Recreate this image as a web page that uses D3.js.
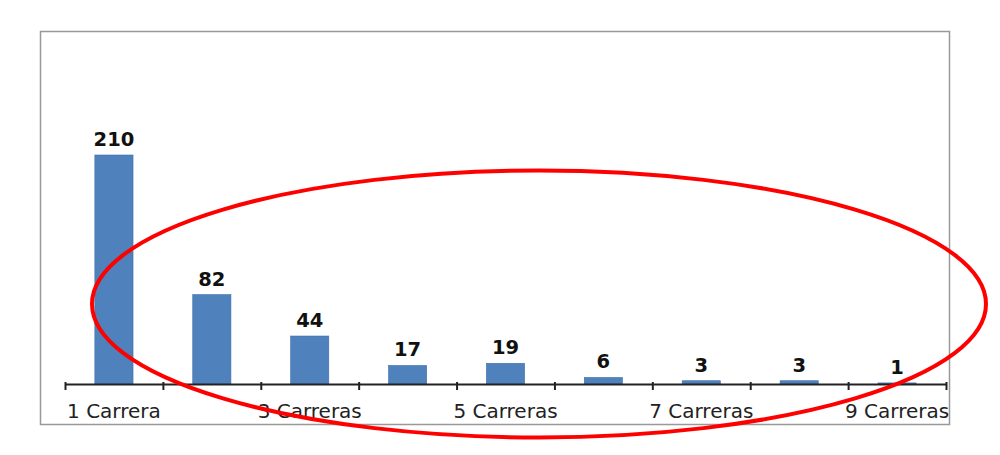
<!DOCTYPE html>
<html>
<head>
<meta charset="utf-8">
<script src="https://cdn.jsdelivr.net/npm/d3@7"></script>
<style>
  html, body { margin: 0; padding: 0; background: #fff; }
  svg { display: block; }
</style>
</head>
<body>
<svg id="chart" width="1000" height="455"></svg>
<script>
const categories = ["1 Carrera", "2 Carreras", "3 Carreras", "4 Carreras", "5 Carreras",
                    "6 Carreras", "7 Carreras", "8 Carreras", "9 Carreras"];
const values = [210, 82, 44, 17, 19, 6, 3, 3, 1];
const shownTickLabels = ["1 Carrera", "3 Carreras", "5 Carreras", "7 Carreras", "9 Carreras"];

const svg = d3.select("#chart");

// outer frame
svg.append("rect")
  .attr("x", 40.5).attr("y", 31.5)
  .attr("width", 909).attr("height", 393)
  .attr("fill", "#fff")
  .attr("stroke", "#999").attr("stroke-width", 1.5);

const x0 = 65, x1 = 946, yBase = 384;

const x = d3.scaleBand()
  .domain(categories)
  .range([x0, x1])
  .paddingInner(0.61)
  .paddingOuter(0.305);

const y = d3.scaleLinear()
  .domain([0, 210])
  .range([yBase, 155]);

// bars
svg.append("g").selectAll("rect")
  .data(values)
  .join("rect")
  .attr("x", (d, i) => x(categories[i]))
  .attr("y", d => y(d))
  .attr("width", x.bandwidth())
  .attr("height", d => yBase - y(d))
  .attr("fill", "#4f81bd")
  .attr("stroke", "#3f6fa8")
  .attr("stroke-width", 0.6);

// value labels
svg.append("g").selectAll("text")
  .data(values)
  .join("text")
  .attr("x", (d, i) => x(categories[i]) + x.bandwidth() / 2)
  .attr("y", d => y(d) - 9)
  .attr("text-anchor", "middle")
  .attr("font-family", "DejaVu Sans, Verdana, sans-serif")
  .attr("font-weight", "bold")
  .attr("font-size", 19.5)
  .attr("fill", "#111")
  .text(d => d);

// axis with ticks at category boundaries
const tickScale = d3.scaleLinear().domain([0, categories.length]).range([x0, x1]);
const axis = d3.axisBottom(tickScale)
  .tickValues(d3.range(categories.length + 1))
  .tickSizeInner(6)
  .tickSizeOuter(0)
  .tickFormat("");
const gAxis = svg.append("g")
  .attr("transform", `translate(0,${yBase})`)
  .call(axis);
gAxis.select(".domain").attr("stroke", "#222").attr("stroke-width", 2);
gAxis.selectAll(".tick line").attr("stroke", "#222").attr("stroke-width", 2).attr("y1", -2);

// category labels (every other one shown)
svg.append("g").selectAll("text")
  .data(shownTickLabels)
  .join("text")
  .attr("x", d => x(d) + x.bandwidth() / 2)
  .attr("y", 418)
  .attr("text-anchor", "middle")
  .attr("font-family", "DejaVu Sans, Verdana, sans-serif")
  .attr("font-size", 20)
  .attr("fill", "#222")
  .text(d => d);

// red highlight ellipse
svg.append("ellipse")
  .attr("cx", 539).attr("cy", 304)
  .attr("rx", 447).attr("ry", 133.5)
  .attr("fill", "none")
  .attr("stroke", "#ff0000")
  .attr("stroke-width", 4);
</script>
</body>
</html>
